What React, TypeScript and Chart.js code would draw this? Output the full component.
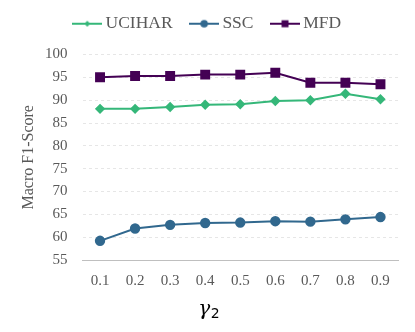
import React, { useEffect, useRef } from "react";
import { Chart, registerables } from "chart.js";
Chart.register(...registerables);

const categories = ["0.1", "0.2", "0.3", "0.4", "0.5", "0.6", "0.7", "0.8", "0.9"];
const ucihar = [88.1, 88.1, 88.5, 89.0, 89.1, 89.8, 90.0, 91.4, 90.2];
const ssc = [59.2, 61.9, 62.7, 63.1, 63.2, 63.5, 63.4, 63.9, 64.4];
const mfd = [95.0, 95.3, 95.3, 95.6, 95.6, 96.0, 93.8, 93.8, 93.5];
const yTitle = "Macro F1-Score";
const xTitleMain = "γ";
const xTitleSub = "2";

const FONT = "'Liberation Serif', 'Times New Roman', serif";
const TICK = "#595959";

function legendIcon(color: string, style: string) {
  const c = document.createElement("canvas");
  c.width = 30;
  c.height = 12;
  const ctx = c.getContext("2d")!;
  ctx.strokeStyle = color;
  ctx.fillStyle = color;
  ctx.lineWidth = 2;
  ctx.beginPath();
  ctx.moveTo(0, 6);
  ctx.lineTo(30, 6);
  ctx.stroke();
  ctx.beginPath();
  if (style === "circle") {
    ctx.arc(15, 6, 3.8, 0, Math.PI * 2);
  } else if (style === "rect") {
    ctx.rect(11.5, 2.5, 7, 7);
  } else {
    ctx.moveTo(15, 3);
    ctx.lineTo(18, 6);
    ctx.lineTo(15, 9);
    ctx.lineTo(12, 6);
    ctx.closePath();
  }
  ctx.fill();
  return c;
}

const legendGapPlugin = {
  id: "legendGap",
  beforeInit(chart: any) {
    const l = chart.legend;
    if (!l) return;
    const orig = l.fit;
    l.fit = function () {
      orig.call(this);
      this.height += 12;
    };
  },
};

const xTitlePlugin = {
  id: "xTitleDraw",
  afterDraw(chart: any) {
    const { ctx, chartArea } = chart;
    const cx = (chartArea.left + chartArea.right) / 2 - 42;
    const y = chart.height - 17;
    ctx.save();
    ctx.fillStyle = "#000";
    ctx.textBaseline = "alphabetic";
    ctx.textAlign = "left";
    ctx.font = "italic 20px 'DejaVu Serif', serif";
    ctx.fillText(xTitleMain, cx, y);
    const w = ctx.measureText(xTitleMain).width;
    ctx.font = "14px 'DejaVu Sans', sans-serif";
    ctx.fillText(xTitleSub, cx + w + 0.5, y + 3);
    ctx.restore();
  },
};

export default function App() {
  const ref = useRef<HTMLCanvasElement>(null);
  useEffect(() => {
    const sets = [
      { label: "UCIHAR", data: ucihar, color: "#35b779", ps: "rectRot", r: 3.8 },
      { label: "SSC", data: ssc, color: "#31688e", ps: "circle", r: 4.2 },
      { label: "MFD", data: mfd, color: "#440154", ps: "rect", r: 5.6 },
    ];
    const chart = new Chart(ref.current!, {
      type: "line",
      data: {
        labels: categories,
        datasets: sets.map((s) => ({
          label: s.label,
          data: s.data,
          borderColor: s.color,
          backgroundColor: s.color,
          pointBackgroundColor: s.color,
          pointBorderColor: s.color,
          pointStyle: s.ps as any,
          pointRadius: s.r,
          borderWidth: 2,
          tension: 0,
        })),
      },
      plugins: [legendGapPlugin, xTitlePlugin],
      options: {
        animation: false,
        responsive: false,
        layout: { padding: { left: 21, right: 17, top: -7, bottom: 38 } },
        plugins: {
          tooltip: { enabled: false },
          legend: {
            position: "top",
            labels: {
              usePointStyle: true,
              pointStyleWidth: 19,
              color: TICK,
              font: { family: FONT, size: 17.5 },
              padding: 22,
              generateLabels: () =>
                sets.map((s, i) => ({
                  text: s.label,
                  pointStyle: legendIcon(s.color, s.ps) as any,
                  fillStyle: s.color,
                  strokeStyle: s.color,
                  lineWidth: 0,
                  hidden: false,
                  datasetIndex: i,
                  fontColor: TICK,
                })),
            },
          },
        },
        scales: {
          x: {
            offset: true,
            grid: { display: false },
            border: { display: true, color: "#bfbfbf", width: 1 },
            ticks: { color: TICK, font: { family: FONT, size: 15 }, padding: 4 },
          },
          y: {
            min: 55,
            max: 100,
            ticks: { stepSize: 5, color: TICK, font: { family: FONT, size: 15 }, padding: 15 },
            grid: { color: "#e6e6e6", drawTicks: false },
            border: { display: false, dash: [3, 3] },
            title: {
              display: true,
              text: yTitle,
              color: TICK,
              font: { family: FONT, size: 16, lineHeight: 1 },
              padding: { top: 0, bottom: -7 },
            },
          },
        },
      },
    });
    return () => chart.destroy();
  }, []);
  return (
    <div style={{ position: "fixed", left: 0, top: 0, width: 415, height: 332, background: "#fff" }}>
      <canvas ref={ref} width={415} height={332} style={{ width: 415, height: 332 }} />
    </div>
  );
}
